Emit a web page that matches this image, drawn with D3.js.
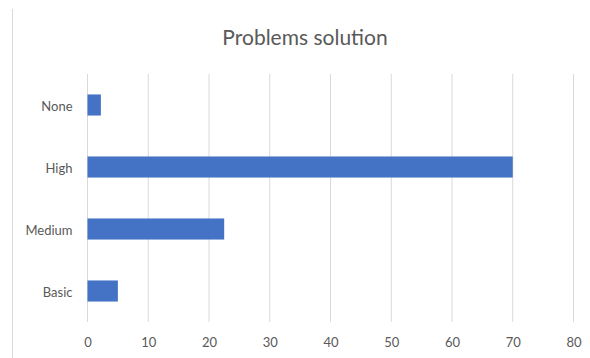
<!DOCTYPE html>
<html><head><meta charset="utf-8">
<script src="https://cdn.jsdelivr.net/npm/d3@7"></script>
<style>body{margin:0;background:#fff}svg{display:block}text{font-family:Lato,"Open Sans",sans-serif}</style>
</head><body>
<script>
const categories = ["None", "High", "Medium", "Basic"];
const values = [2.2, 70, 22.5, 5];
const xTicks = [0, 10, 20, 30, 40, 50, 60, 70, 80];
const title = "Problems solution";

const W = 590, H = 358;
const m = {left: 87.5, right: 16.5, top: 74, bottom: 36};
const svg = d3.select("body").append("svg").attr("width", W).attr("height", H);

svg.append("line").attr("x1", 12.5).attr("x2", 12.5).attr("y1", 9).attr("y2", H)
  .attr("stroke", "#d9d9d9").attr("stroke-width", 1);

const x = d3.scaleLinear().domain([0, 80]).range([m.left, W - m.right]);
const y = d3.scaleBand().domain(categories).range([m.top, H - m.bottom]).paddingInner(0.66).paddingOuter(0.33);

svg.append("g").selectAll("line").data(xTicks).join("line")
  .attr("x1", d => x(d)).attr("x2", d => x(d))
  .attr("y1", m.top).attr("y2", H - m.bottom)
  .attr("stroke", "#d9d9d9").attr("stroke-width", 1);

svg.append("g").selectAll("rect").data(categories).join("rect")
  .attr("x", x(0)).attr("y", d => y(d))
  .attr("width", (d, i) => x(values[i]) - x(0))
  .attr("height", y.bandwidth())
  .attr("fill", "#4472C4");

const xAxis = svg.append("g").attr("transform", `translate(0,${H - m.bottom})`)
  .call(d3.axisBottom(x).tickValues(xTicks).tickSize(0).tickPadding(16));
xAxis.select(".domain").remove();
xAxis.selectAll("text").attr("fill", "#595959").style("font-size", "13px");

const yAxis = svg.append("g").attr("transform", `translate(${m.left},0)`)
  .call(d3.axisLeft(y).tickSize(0).tickPadding(15));
yAxis.select(".domain").remove();
yAxis.selectAll("text").attr("fill", "#595959").style("font-size", "13px").attr("dy", "0.45em");

svg.append("text").attr("x", 305).attr("y", 45).attr("text-anchor", "middle")
  .attr("fill", "#595959").style("font-size", "21px").text(title);
</script>
</body></html>
